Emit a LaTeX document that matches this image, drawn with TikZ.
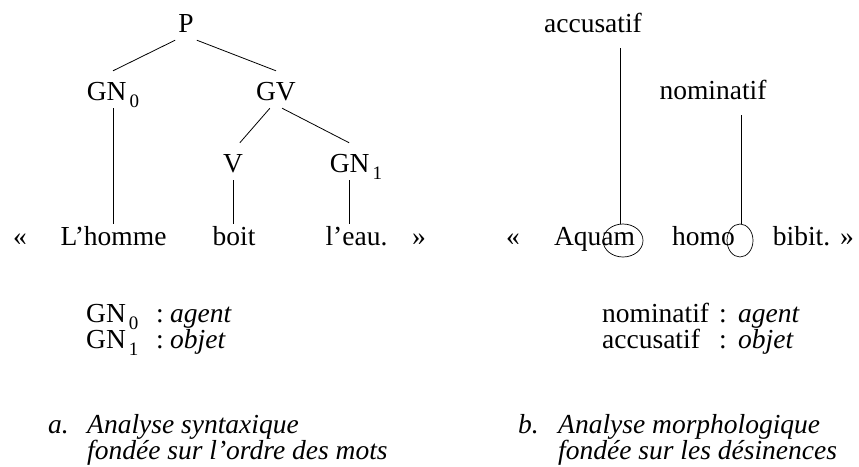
\documentclass[tikz,border=0pt]{standalone}
\usepackage{fontspec}
\setmainfont{Liberation Serif}
\usetikzlibrary{shapes.geometric}
\newcommand{\idx}[1]{\hspace{3pt}\raisebox{-7pt}{\fontsize{19}{19}\selectfont #1}}

\begin{document}
\begin{tikzpicture}[x=1pt, y=-1pt,
    every node/.style={font=\fontsize{27.5}{33}\selectfont},
    cat/.style={inner sep=3pt, text height=26pt, text depth=5pt, anchor=base},
    word/.style={inner sep=3pt, text height=18pt, anchor=base},
    txt/.style={inner sep=0pt, anchor=base west},
    link/.style={line width=0.8pt},
    case/.style={link, shorten <=13pt},
    ring/.style={draw, ellipse, line width=0.7pt, inner sep=0pt},
]
\useasboundingbox (0,0) rectangle (859,466);

% a. arbre syntaxique
\node[cat] (P) at (186,32) {P};
\node[cat] (GN0) at (113,100) {GN\idx{0}};
\node[cat] (GV) at (276,100) {GV};
\node[cat] (V) at (233,172) {V};
\node[cat] (GN1) at (356,172) {GN\idx{1}};

\node[word] (gl1) at (20,245) {«};
\node[word] (Lhomme) at (113.5,245) {L’homme};
\node[word] (boit) at (234,245) {boit};
\node[word] (leau) at (356.5,245) {l’eau.};
\node[word] (gr1) at (419,245) {»};

\draw[link] (P.south west) -- (GN0.north);
\draw[link] (P.south east) -- (GV.north);
\draw[link] (GV.-108) -- (V.70);
\draw[link] (GV.-72) -- (GN1.110);
\draw[link] (GN0.south) -- (GN0.south |- Lhomme.north);
\draw[link] (V.south) -- (V.south |- boit.north);
\draw[link] (GN1.-110) -- (GN1.-110 |- leau.north);

\foreach \lab/\val/\y [count=\i] in {GN\idx{0}/agent/322, GN\idx{1}/objet/348} {
    \node[txt] (la\i) at (86,\y) {\lab};
    \node[txt] (ca\i) at (156,\y) {:};
    \node[txt] (va\i) at (170,\y) {\textit{\val}};
}

\node[txt] (capa) at (48,433) {\textit{a.}};
\node[txt] (capa1) at (87,433) {\textit{Analyse syntaxique}};
\node[txt] (capa2) at (87,459) {\textit{fondée sur l’ordre des mots}};

% b. desinences
\node[word] (acc) at (593,32) {accusatif};
\node[word] (nom) at (713,99) {nominatif};

\node[word] (gl2) at (513,245) {«};
\node[word] (aquam) at (594.5,245) {Aquam};
\node[word] (homo) at (703.5,245) {homo};
\node[word] (bibit) at (801.5,245) {bibit.};
\node[word] (gr2) at (847,245) {»};
\node[ring, minimum width=40pt, minimum height=33pt] (am) at (623,240.5) {};
\node[ring, minimum width=26pt, minimum height=33pt] (o) at (740,240.5) {};

\draw[case] (acc.south -| am.100) -- (am.100);
\draw[case] (nom.south -| o.85) -- (o.85);

\foreach \lab/\val/\y [count=\i] in {nominatif/agent/322, accusatif/objet/348} {
    \node[txt] (lb\i) at (602,\y) {\lab};
    \node[txt] (cb\i) at (719,\y) {:};
    \node[txt] (vb\i) at (738,\y) {\textit{\val}};
}

\node[txt] (capb) at (518,433) {\textit{b.}};
\node[txt] (capb1) at (558,433) {\textit{Analyse morphologique}};
\node[txt] (capb2) at (558,459) {\textit{fondée sur les désinences}};
\end{tikzpicture}
\end{document}
